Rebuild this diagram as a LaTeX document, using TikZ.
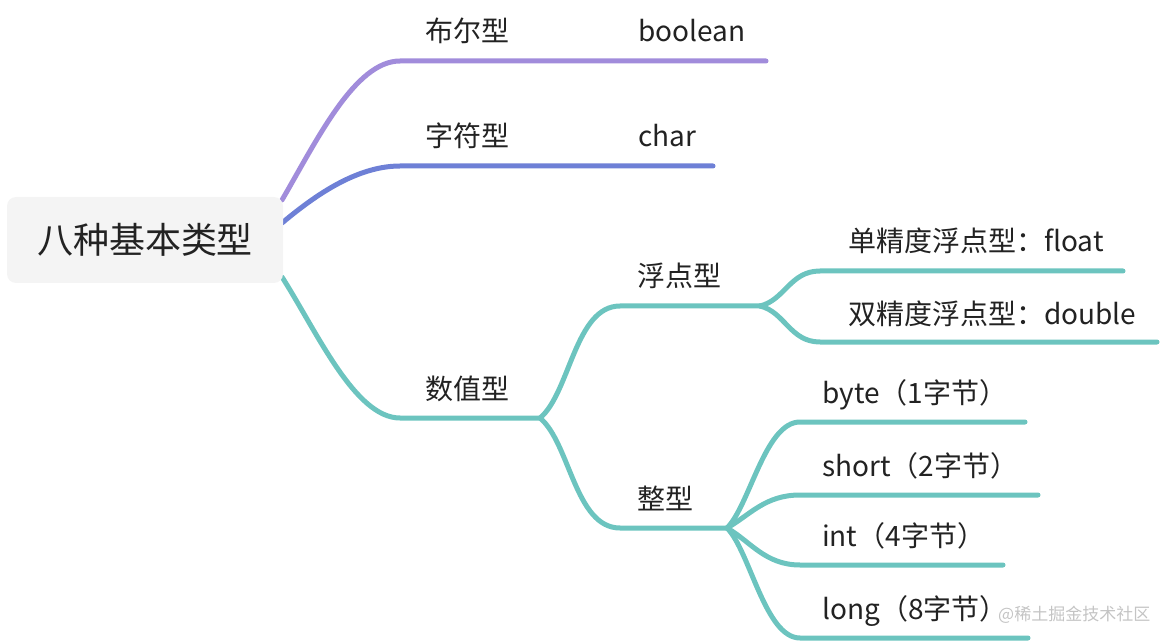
\documentclass[tikz,border=0pt]{standalone}
\usepackage{fontspec}
\setmainfont{Noto Sans CJK SC}
\usepackage{tikz}
\definecolor{rootgray}{HTML}{F4F4F4}
\definecolor{boolpurple}{HTML}{A18CDB}
\definecolor{charblue}{HTML}{6E80D6}
\definecolor{numteal}{HTML}{6CC4BF}
\definecolor{ink}{HTML}{222222}
\definecolor{wmark}{HTML}{C4C4C4}
\newcommand{\rootfont}{\fontsize{36}{42}\selectfont}
\newcommand{\labfont}{\fontsize{28}{34}\selectfont}

\begin{document}
\begin{tikzpicture}[x=1pt,y=-1pt,
  root/.style={rectangle,rounded corners=9pt,fill=rootgray,minimum width=276pt,minimum height=86pt,inner sep=0pt,font=\rootfont,text=ink},
  lab/.style={anchor=base west,inner sep=0pt,font=\labfont,text=ink},
  edge/.style={line width=5pt,line cap=round,line join=round},
  wm/.style={anchor=base west,inner sep=0pt,font=\fontsize{17}{21}\selectfont,text=wmark}]
  \useasboundingbox (0,0) rectangle (1162,644);
  % first level
  \coordinate (bS) at (282,200);
  \coordinate (bB) at (400,61);
  \coordinate (bE) at (766,61);
  \coordinate (cS) at (282,223);
  \coordinate (cB) at (400,166);
  \coordinate (cE) at (713,166);
  \coordinate (nS) at (282,277);
  \coordinate (nB) at (400,418);
  \coordinate (nJ) at (540,418);
  \draw[edge,draw=boolpurple] (bS) .. controls +(35,-60) and +(-45,0) .. (bB) -- (bE);
  \draw[edge,draw=charblue] (cS) .. controls +(30,-25) and +(-45,0) .. (cB) -- (cE);
  \draw[edge,draw=numteal] (nS) .. controls +(35,55) and +(-45,0) .. (nB) -- (nJ);
  \node[root] (r) at (145,240) {八种基本类型};
  \node[lab] (bLab) at (425,42) {布尔型};
  \node[lab] (bVal) at (638,42) {boolean};
  \node[lab] (cLab) at (425,147) {字符型};
  \node[lab] (cVal) at (638,147) {char};
  \node[lab] (nLab) at (425,399) {数值型};
  % second level
  \coordinate (fB) at (620,306);
  \coordinate (fJ) at (760,306);
  \coordinate (iB) at (620,528);
  \coordinate (iJ) at (727,528);
  \draw[edge,draw=numteal] (nJ) .. controls +(30,-25) and +(-45,0) .. (fB) -- (fJ);
  \draw[edge,draw=numteal] (nJ) .. controls +(30,25) and +(-45,0) .. (iB) -- (iJ);
  \node[lab] (fLab) at (637,287) {浮点型};
  \node[lab] (iLab) at (637,509) {整型};
  % floats
  \coordinate (f1B) at (820,271);
  \coordinate (f1E) at (1123,271);
  \coordinate (f2B) at (820,342);
  \coordinate (f2E) at (1157,342);
  \draw[edge,draw=numteal] (fJ) .. controls +(25,-6) and +(-30,0) .. (f1B) -- (f1E);
  \draw[edge,draw=numteal] (fJ) .. controls +(25,6) and +(-30,0) .. (f2B) -- (f2E);
  \node[lab] (f1Lab) at (848,252) {单精度浮点型：float};
  \node[lab] (f2Lab) at (848,324) {双精度浮点型：double};
  % integers
  \coordinate (i1B) at (800,422);
  \coordinate (i1E) at (1025,422);
  \coordinate (i2B) at (800,495);
  \coordinate (i2E) at (1038,495);
  \coordinate (i3B) at (800,565);
  \coordinate (i3E) at (1003,565);
  \coordinate (i4B) at (800,638);
  \coordinate (i4E) at (1028,638);
  \draw[edge,draw=numteal] (iJ) .. controls +(23,-23) and +(-35,0) .. (i1B) -- (i1E);
  \draw[edge,draw=numteal] (iJ) .. controls +(23,-13) and +(-35,0) .. (i2B) -- (i2E);
  \draw[edge,draw=numteal] (iJ) .. controls +(23,13) and +(-35,0) .. (i3B) -- (i3E);
  \draw[edge,draw=numteal] (iJ) .. controls +(23,23) and +(-35,0) .. (i4B) -- (i4E);
  \node[lab] (i1Lab) at (822,403) {byte（1字节）};
  \node[lab] (i2Lab) at (822,476) {short（2字节）};
  \node[lab] (i3Lab) at (822,546) {int（4字节）};
  \node[lab] (i4Lab) at (822,619) {long（8字节）};
  \node[wm] (mark) at (998,620) {@稀土掘金技术社区};
\end{tikzpicture}
\end{document}
